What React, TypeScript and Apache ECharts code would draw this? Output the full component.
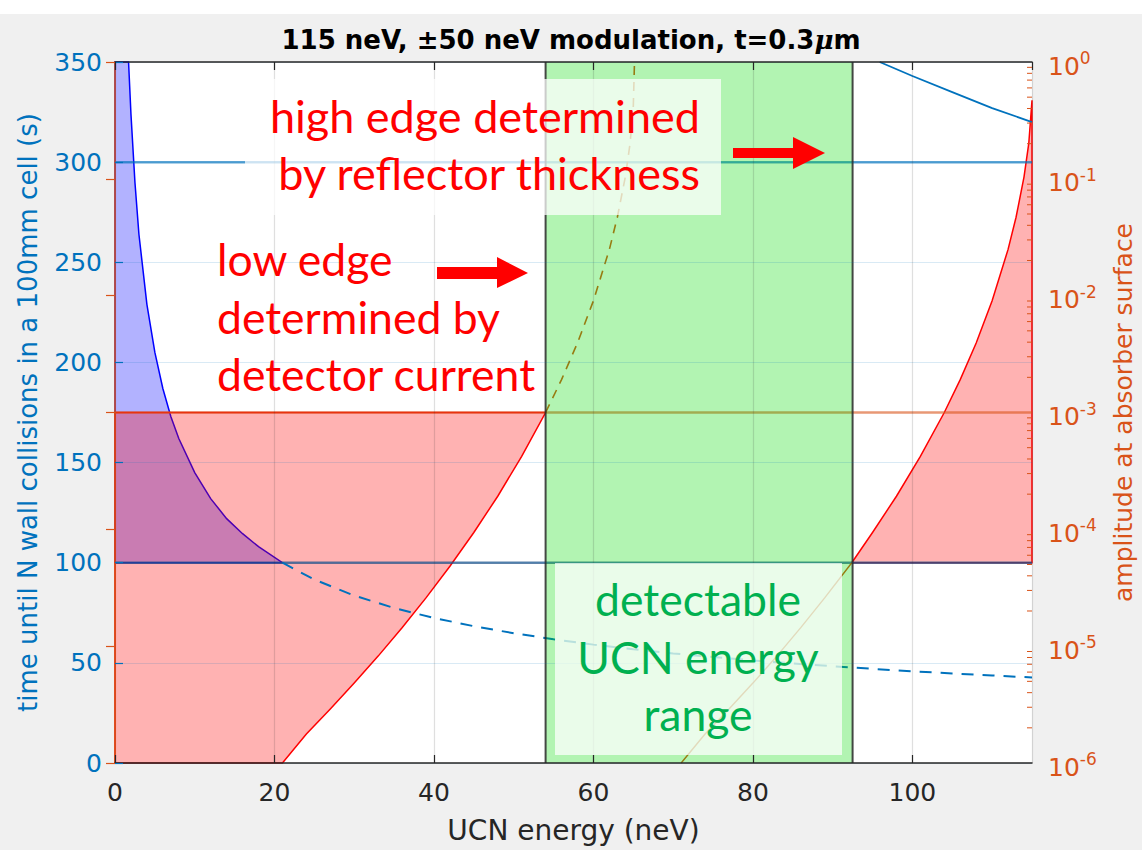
import React, { useEffect, useRef } from 'react';
import * as echarts from 'echarts';

// ---------- axes ----------
const E_MIN = 0;
const E_MAX = 115;
const E_INTERVAL = 20;
const T_MIN = 0;
const T_MAX = 350;
const T_INTERVAL = 50;
const AMP_MIN = 1e-6;
const AMP_MAX = 1;
const MINOR_MULTS = [2, 3, 4, 5, 6, 7, 8, 9];
const MINOR_DECADES = [1e-6, 1e-5, 1e-4, 1e-3, 1e-2, 1e-1];

// ---------- time until N wall collisions (s), left axis ----------
const blueSolidE = [1.7, 2, 2.5, 3, 4, 5, 6, 7, 8, 10, 12, 14, 16, 18, 21];
const blueSolidT = [350, 324, 290, 264, 229, 205, 187, 173, 162, 145, 132, 122, 114.5, 108, 100];
const blueDashE = [21, 25, 30, 35, 40, 45, 50, 55, 60, 65, 70, 75, 80, 85, 90, 95, 100, 105, 110, 115];
const blueDashT = [100, 91.6, 83.6, 77.4, 72.4, 68.3, 64.8, 61.8, 59.1, 56.8, 54.7, 52.9, 51.2, 49.7, 48.3, 47.0, 45.8, 44.7, 43.7, 42.7];
const blueUpperE = [95.9, 100, 105, 110, 115];
const blueUpperT = [350, 343, 335, 327, 320];
const T_LINE_HIGH = 300;
const T_LINE_LOW = 100;

// ---------- amplitude at absorber surface, right (log) axis ----------
const lowCurveE = [21.0, 24, 27, 30, 33, 36, 39, 42, 45, 48, 51, 54];
const lowCurveA = [1.0e-6, 1.77e-6, 2.9e-6, 4.83e-6, 8.22e-6, 1.44e-5, 2.59e-5, 4.83e-5, 9.4e-5, 1.92e-4, 4.21e-4, 1.0e-3];
const lowDashE = [54, 56, 58, 60, 62, 63, 64, 64.6, 65.0, 65.15];
const lowDashA = [1.0e-3, 1.91e-3, 3.94e-3, 9.06e-3, 0.0249, 0.0469, 0.104, 0.202, 0.42, 1.0];
const highFaintE = [71.0, 74, 77, 80, 83, 86, 89, 92.4];
const highFaintA = [1.0e-6, 1.77e-6, 2.9e-6, 4.83e-6, 8.22e-6, 1.44e-5, 2.59e-5, 5.18e-5];
const highSolidE = [92.4, 95, 98, 101, 104, 106, 108, 110, 112, 113, 114, 114.6, 115];
const highSolidA = [5.18e-5, 9.4e-5, 1.92e-4, 4.21e-4, 1.0e-3, 1.91e-3, 3.94e-3, 9.06e-3, 0.0249, 0.0469, 0.104, 0.202, 0.47];
const AMP_THRESHOLD = 1e-3;

// ---------- detectable window (neV) ----------
const WINDOW_LOW = 54;
const WINDOW_HIGH = 92.5;

const BLUE = '#0072bd';
const ORANGE = '#d95319';
const DARK = '#262626';
const MFONT = 'DejaVu Sans';
const AFONT = 'Lato';

const pairs = (xs: number[], ys: number[]) => xs.map((x, i) => [x, ys[i]]);

function buildOption() {
  const minorTicks: number[][] = [];
  MINOR_DECADES.forEach((d) => MINOR_MULTS.forEach((m) => minorTicks.push([E_MAX, d * m])));

  const lineSeries = (data: number[][], yAxisIndex: number, style: any, z = 3) => ({
    type: 'line',
    xAxisIndex: 0,
    yAxisIndex,
    data,
    showSymbol: false,
    symbol: 'none',
    silent: true,
    z,
    lineStyle: style,
  });

  return {
    animation: false,
    backgroundColor: '#f0f0f0',
    title: {
      text: '115 neV, \u00b150 neV modulation, t=0.3{i|\u03bc}m',
      left: 'center',
      top: 27,
      padding: 0,
      textStyle: {
        fontFamily: MFONT,
        fontSize: 26,
        fontWeight: 'bold',
        color: '#000',
        rich: {
          i: { fontFamily: 'DejaVu Serif', fontStyle: 'italic', fontSize: 26, color: '#000' },
        },
      },
    },
    grid: {
      left: 115,
      top: 62,
      right: 110,
      bottom: 87,
      containLabel: false,
      outerBoundsMode: 'none',
      show: true,
      backgroundColor: '#ffffff',
      borderWidth: 0,
    },
    xAxis: [
      {
        type: 'value',
        min: E_MIN,
        max: E_MAX,
        interval: E_INTERVAL,
        position: 'bottom',
        z: 5,
        name: 'UCN energy (neV)',
        nameLocation: 'middle',
        nameGap: 53,
        nameTextStyle: { fontFamily: MFONT, fontSize: 28, color: DARK },
        axisLine: { show: true, lineStyle: { color: DARK, width: 1.5 } },
        axisTick: { show: true, inside: true, length: 8, lineStyle: { color: DARK, width: 1.2 } },
        axisLabel: { showMaxLabel: false, margin: 17, fontFamily: MFONT, fontSize: 25, color: DARK },
        splitLine: { show: true, lineStyle: { color: 'rgba(38,38,38,0.15)', width: 1.2 } },
      },
      {
        type: 'value',
        min: E_MIN,
        max: E_MAX,
        interval: E_INTERVAL,
        position: 'top',
        z: 5,
        axisLine: { show: true, lineStyle: { color: DARK, width: 1.5 } },
        axisTick: { show: true, inside: true, length: 8, lineStyle: { color: DARK, width: 1.2 } },
        axisLabel: { show: false },
        splitLine: { show: false },
      },
    ],
    yAxis: [
      {
        type: 'value',
        min: T_MIN,
        max: T_MAX,
        interval: T_INTERVAL,
        position: 'left',
        z: 5,
        name: 'time until N wall collisions in a 100mm cell (s)',
        nameLocation: 'middle',
        nameRotate: 90,
        nameGap: 74,
        nameTextStyle: { fontFamily: MFONT, fontSize: 26, color: BLUE },
        axisLine: { show: false },
        axisTick: { show: true, inside: true, length: 8, lineStyle: { color: BLUE, width: 1.2 } },
        axisLabel: { margin: 13, fontFamily: MFONT, fontSize: 25, color: BLUE },
        splitLine: { show: true, lineStyle: { color: 'rgba(0,114,189,0.15)', width: 1.2 } },
      },
      {
        type: 'log',
        logBase: 10,
        min: AMP_MIN,
        max: AMP_MAX,
        splitNumber: 6,
        position: 'right',
        z: 5,
        name: 'amplitude at absorber surface',
        nameLocation: 'middle',
        nameRotate: 90,
        nameGap: 78,
        nameTextStyle: { fontFamily: MFONT, fontSize: 25, color: ORANGE, lineHeight: 26 },
        axisLine: { show: true, lineStyle: { color: ORANGE, width: 1.5 } },
        axisTick: { show: true, inside: true, length: 9, lineStyle: { color: ORANGE, width: 1.2 } },
        axisLabel: {
          margin: 16,
          formatter: (v: number) => `{b|10}{s|${Math.round(Math.log10(v))}}`,
          rich: {
            b: { fontFamily: MFONT, fontSize: 25, color: ORANGE, padding: [8, 0, 0, 0] },
            s: { fontFamily: MFONT, fontSize: 17, color: ORANGE, padding: [0, 0, 8, 0] },
          },
        },
        splitLine: { show: false },
      },
    ],
    series: [
      // blue filled region above t=100 under the collision-time curve
      {
        type: 'custom',
        xAxisIndex: 0,
        yAxisIndex: 0,
        data: [[E_MIN, T_LINE_LOW]],
        silent: true,
        z: 2,
        renderItem: (_p: any, api: any) => {
          const pts = [api.coord([E_MIN, T_LINE_LOW]), api.coord([E_MIN, T_MAX])].concat(
            blueSolidE.map((e, i) => api.coord([e, blueSolidT[i]]))
          );
          return {
            type: 'polygon',
            shape: { points: pts },
            style: { fill: 'rgba(0,0,255,0.3)', stroke: '#0000ff', lineWidth: 1.5 },
          };
        },
      },
      // red filled region (low edge)
      {
        type: 'custom',
        xAxisIndex: 0,
        yAxisIndex: 1,
        data: [[E_MIN, AMP_THRESHOLD]],
        silent: true,
        z: 2,
        renderItem: (_p: any, api: any) => {
          const pts = [api.coord([E_MIN, AMP_MIN])]
            .concat(lowCurveE.map((e, i) => api.coord([e, lowCurveA[i]])))
            .concat([api.coord([E_MIN, AMP_THRESHOLD])]);
          return {
            type: 'polygon',
            shape: { points: pts },
            style: { fill: 'rgba(255,0,0,0.3)', stroke: '#ff0000', lineWidth: 1.5 },
          };
        },
      },
      // red filled region (high edge)
      {
        type: 'custom',
        xAxisIndex: 0,
        yAxisIndex: 1,
        data: [[E_MAX, AMP_THRESHOLD]],
        silent: true,
        z: 2,
        renderItem: (_p: any, api: any) => {
          const pts = highSolidE
            .map((e, i) => api.coord([e, highSolidA[i]]))
            .concat([api.coord([E_MAX, highSolidA[0]])]);
          return {
            type: 'polygon',
            shape: { points: pts },
            style: { fill: 'rgba(255,0,0,0.3)', stroke: '#ff0000', lineWidth: 1.5 },
          };
        },
      },
      // horizontal reference lines
      lineSeries([[E_MIN, T_LINE_HIGH], [E_MAX, T_LINE_HIGH]], 0, { color: BLUE, width: 2.5, opacity: 0.65 }),
      lineSeries([[E_MIN, T_LINE_LOW], [E_MAX, T_LINE_LOW]], 0, { color: '#1b4f86', width: 2.5, opacity: 0.7 }),
      lineSeries([[E_MIN, AMP_THRESHOLD], [E_MAX, AMP_THRESHOLD]], 1, { color: ORANGE, width: 2.5, opacity: 0.6 }),
      // collision-time curves
      lineSeries(pairs(blueDashE, blueDashT), 0, { color: BLUE, width: 2, type: [12, 9] }),
      lineSeries(pairs(blueUpperE, blueUpperT), 0, { color: BLUE, width: 1.8 }),
      // amplitude curves
      lineSeries(pairs(lowDashE, lowDashA), 1, { color: ORANGE, width: 1.6, type: [9, 7] }),
      lineSeries(pairs(highFaintE, highFaintA), 1, { color: ORANGE, width: 1.4 }),
      // detectable window
      {
        type: 'custom',
        xAxisIndex: 0,
        yAxisIndex: 0,
        data: [[WINDOW_LOW, T_MAX]],
        silent: true,
        z: 4,
        renderItem: (_p: any, api: any) => {
          const a = api.coord([WINDOW_LOW, T_MAX]);
          const b = api.coord([WINDOW_HIGH, T_MIN]);
          return {
            type: 'group',
            children: [
              {
                type: 'rect',
                shape: { x: a[0], y: a[1], width: b[0] - a[0], height: b[1] - a[1] },
                style: { fill: 'rgba(0,220,0,0.3)' },
              },
              {
                type: 'line',
                shape: { x1: a[0], y1: a[1], x2: a[0], y2: b[1] },
                style: { stroke: 'rgba(40,40,40,0.85)', lineWidth: 2 },
              },
              {
                type: 'line',
                shape: { x1: b[0], y1: a[1], x2: b[0], y2: b[1] },
                style: { stroke: 'rgba(40,40,40,0.85)', lineWidth: 2 },
              },
            ],
          };
        },
      },
      // minor log ticks on right axis
      {
        type: 'custom',
        xAxisIndex: 0,
        yAxisIndex: 1,
        data: minorTicks,
        silent: true,
        z: 6,
        renderItem: (_p: any, api: any) => {
          const p = api.coord([api.value(0), api.value(1)]);
          return {
            type: 'line',
            shape: { x1: p[0] - 5, y1: p[1], x2: p[0], y2: p[1] },
            style: { stroke: ORANGE, lineWidth: 1 },
          };
        },
      },
    ],
    graphic: [
      { type: 'rect', z: 100, shape: { x: 0, y: 0, width: 1142, height: 14 }, style: { fill: '#ffffff' }, silent: true },
      // high edge note
      { type: 'rect', z: 100, shape: { x: 245, y: 79, width: 476, height: 136 }, style: { fill: 'rgba(255,255,255,0.72)' } },
      { type: 'text', z: 101, x: 700, y: 116, style: { text: 'high edge determined', fill: '#ff0000', font: `45px ${AFONT}`, align: 'right', verticalAlign: 'middle' } },
      { type: 'text', z: 101, x: 700, y: 173, style: { text: 'by reflector thickness', fill: '#ff0000', font: `45px ${AFONT}`, align: 'right', verticalAlign: 'middle' } },
      {
        type: 'polygon', z: 101,
        shape: { points: [[733, 148], [793, 148], [793, 137], [825, 153], [793, 169], [793, 158], [733, 158]] },
        style: { fill: '#ff0000' },
      },
      // low edge note
      { type: 'text', z: 101, x: 217, y: 258, style: { text: 'low edge', fill: '#ff0000', font: `44.5px ${AFONT}`, align: 'left', verticalAlign: 'middle' } },
      { type: 'text', z: 101, x: 217, y: 316, style: { text: 'determined by', fill: '#ff0000', font: `44.5px ${AFONT}`, align: 'left', verticalAlign: 'middle' } },
      { type: 'text', z: 101, x: 217, y: 373, style: { text: 'detector current', fill: '#ff0000', font: `44.5px ${AFONT}`, align: 'left', verticalAlign: 'middle' } },
      {
        type: 'polygon', z: 101,
        shape: { points: [[437, 267], [497, 267], [497, 257], [528, 273], [497, 288], [497, 279], [437, 279]] },
        style: { fill: '#ff0000' },
      },
      // detectable range note
      { type: 'rect', z: 100, shape: { x: 555, y: 563, width: 287, height: 192 }, style: { fill: 'rgba(255,255,255,0.72)' } },
      { type: 'text', z: 101, x: 698, y: 598, style: { text: 'detectable', fill: '#00b050', font: `44.5px ${AFONT}`, align: 'center', verticalAlign: 'middle' } },
      { type: 'text', z: 101, x: 698, y: 656, style: { text: 'UCN energy', fill: '#00b050', font: `44.5px ${AFONT}`, align: 'center', verticalAlign: 'middle' } },
      { type: 'text', z: 101, x: 698, y: 713, style: { text: 'range', fill: '#00b050', font: `44.5px ${AFONT}`, align: 'center', verticalAlign: 'middle' } },
    ],
  };
}

export default function App() {
  const ref = useRef<HTMLDivElement>(null);
  useEffect(() => {
    document.body.style.margin = '0';
    const chart = echarts.init(ref.current as HTMLDivElement, null, { renderer: 'svg' });
    chart.setOption(buildOption() as any);
    return () => chart.dispose();
  }, []);
  return <div ref={ref} style={{ width: 1142, height: 850 }} />;
}
